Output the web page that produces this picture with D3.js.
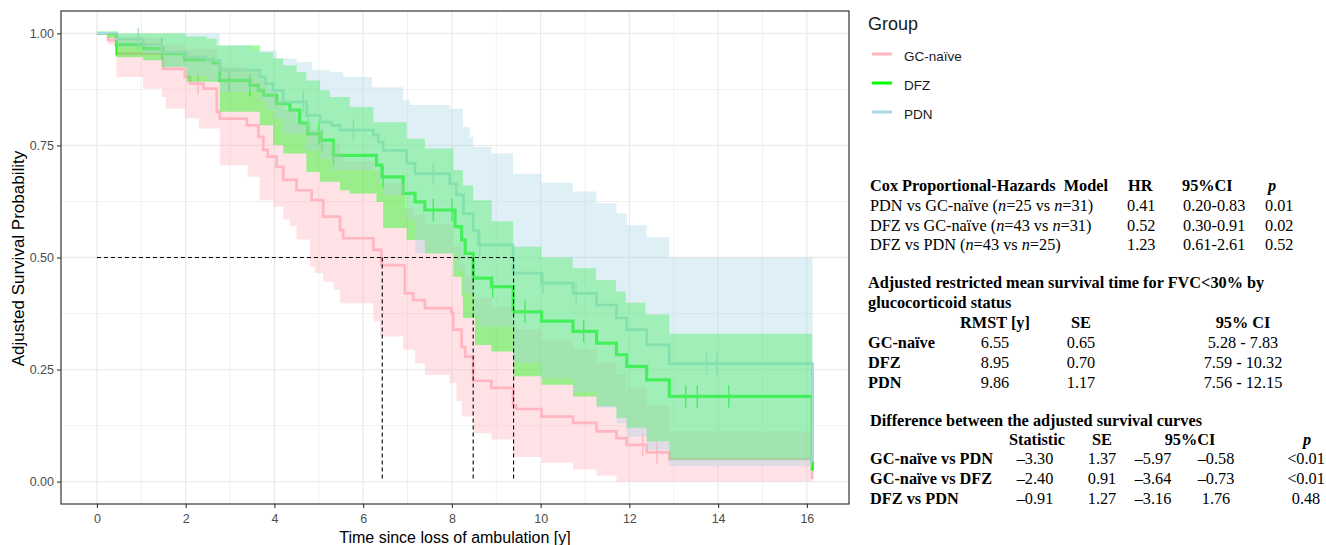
<!DOCTYPE html>
<html>
<head>
<meta charset="utf-8">
<script src="https://cdn.jsdelivr.net/npm/d3@7"></script>
<style>
  body { margin: 0; background: #fff; }
  svg { display: block; }
  text { white-space: pre; }
</style>
</head>
<body>
<svg id="chart" width="1326" height="545"></svg>
<script>
// groups and colours
const groups = ["GC-naïve", "DFZ", "PDN"];
const colors = ["#ffb6c1", "#00ff00", "#add8e6"];

// adjusted survival curves, [time, probability] at each step
const gcSurv = [[0,1],[0.25,0.985],[0.44,0.955],[1.49,0.921],[1.98,0.903],[2.1,0.888],[2.4,0.877],[2.7,0.825],[2.77,0.81],[3.38,0.795],[3.64,0.769],[3.75,0.74],[3.85,0.725],[4.05,0.702],[4.2,0.673],[4.5,0.65],[4.84,0.628],[5.1,0.591],[5.48,0.561],[5.55,0.543],[6.23,0.517],[6.41,0.483],[6.94,0.42],[7.13,0.405],[7.39,0.387],[7.99,0.376],[8.03,0.339],[8.22,0.3],[8.3,0.279],[8.48,0.225],[8.89,0.209],[9.38,0.17],[9.45,0.162],[10.02,0.145],[10.73,0.131],[11.26,0.112],[11.71,0.097],[11.94,0.082],[12.39,0.065],[12.9,0.05],[16.12,0.005]];
const gcLower = [[0,1],[0.25,0.975],[0.44,0.903],[1.04,0.877],[1.46,0.858],[1.55,0.832],[1.98,0.81],[2.3,0.788],[2.77,0.706],[3.4,0.68],[3.67,0.628],[3.98,0.613],[4.2,0.585],[4.35,0.57],[4.5,0.54],[4.8,0.48],[4.91,0.465],[5.1,0.446],[5.33,0.428],[5.48,0.398],[6.23,0.357],[6.38,0.324],[6.9,0.294],[7.17,0.264],[7.39,0.238],[7.95,0.22],[8.1,0.18],[8.22,0.145],[8.48,0.108],[8.89,0.094],[9.38,0.055],[10.02,0.042],[10.73,0.027],[11.26,0.013],[11.71,0],[16.12,0]];
const gcUpper = [[0,1],[0.44,0.99],[1.49,0.975],[1.98,0.965],[2.7,0.94],[2.77,0.925],[3.38,0.915],[3.64,0.895],[3.85,0.87],[4.05,0.855],[4.2,0.83],[4.5,0.8],[4.84,0.785],[5.1,0.755],[5.48,0.73],[5.55,0.715],[6.23,0.695],[6.41,0.665],[6.94,0.61],[7.13,0.595],[7.39,0.575],[7.99,0.565],[8.03,0.525],[8.22,0.485],[8.3,0.46],[8.48,0.41],[8.89,0.39],[9.38,0.35],[9.45,0.34],[10.02,0.315],[10.73,0.295],[11.26,0.265],[11.71,0.24],[11.94,0.21],[12.39,0.17],[12.9,0.112],[16.12,0.112]];

const dfzSurv = [[0,1],[0.44,0.975],[1.06,0.966],[1.49,0.955],[1.98,0.941],[2.62,0.934],[2.77,0.895],[3.45,0.884],[3.64,0.873],[3.75,0.862],[4.05,0.843],[4.35,0.829],[4.57,0.8],[4.75,0.776],[5.03,0.762],[5.33,0.728],[6.3,0.706],[6.42,0.68],[6.9,0.643],[7.17,0.624],[7.39,0.606],[8.07,0.569],[8.22,0.539],[8.3,0.509],[8.48,0.454],[8.89,0.435],[9.38,0.379],[10.02,0.358],[10.73,0.335],[11.26,0.309],[11.71,0.283],[11.94,0.257],[12.39,0.227],[12.9,0.19],[16.12,0.025]];
const dfzLower = [[0,1],[0.25,0.99],[0.44,0.947],[1.04,0.94],[1.46,0.925],[2.02,0.892],[2.77,0.825],[3.67,0.795],[3.97,0.751],[4.2,0.732],[4.72,0.691],[5.03,0.669],[5.48,0.65],[5.7,0.643],[6.3,0.624],[6.45,0.566],[6.98,0.539],[7.39,0.509],[8.03,0.457],[8.22,0.413],[8.25,0.365],[8.52,0.305],[8.89,0.29],[9.38,0.235],[10.02,0.216],[10.73,0.19],[11.26,0.168],[11.71,0.142],[11.94,0.12],[12.39,0.09],[12.9,0.049],[16.12,0.049]];
const dfzUpper = [[0,1],[2.0,0.993],[2.47,0.988],[2.7,0.973],[3.67,0.958],[3.97,0.944],[4.2,0.929],[4.5,0.914],[4.72,0.895],[5.03,0.873],[5.25,0.858],[5.7,0.836],[6.23,0.802],[6.98,0.765],[7.39,0.743],[8.03,0.695],[8.25,0.661],[8.48,0.628],[8.9,0.581],[9.38,0.524],[10.02,0.5],[10.72,0.476],[11.25,0.45],[11.7,0.424],[11.92,0.399],[12.36,0.373],[12.9,0.33],[16.12,0.33]];

const pdnSurv = [[0,1],[0.44,0.988],[1.04,0.975],[1.46,0.958],[2.02,0.947],[2.47,0.94],[2.77,0.918],[3.67,0.903],[3.8,0.888],[3.97,0.873],[4.2,0.847],[4.72,0.817],[5.03,0.802],[5.29,0.795],[5.48,0.784],[6.23,0.773],[6.34,0.758],[6.45,0.739],[6.98,0.71],[7.17,0.687],[7.95,0.665],[8.1,0.64],[8.26,0.598],[8.48,0.56],[8.6,0.528],[9.38,0.465],[10.02,0.443],[10.73,0.42],[11.26,0.394],[11.71,0.365],[11.94,0.339],[12.39,0.305],[12.9,0.263],[16.13,0.045]];
const pdnLower = [[0,1],[0.44,0.97],[1.04,0.955],[1.46,0.925],[2.02,0.905],[2.47,0.895],[2.77,0.869],[3.67,0.85],[3.8,0.83],[3.97,0.81],[4.2,0.775],[4.72,0.739],[5.03,0.72],[5.29,0.695],[6.34,0.665],[6.45,0.64],[6.98,0.585],[7.17,0.51],[8.1,0.47],[8.26,0.42],[8.48,0.37],[8.6,0.346],[9.38,0.265],[10.02,0.23],[10.73,0.2],[11.26,0.165],[11.71,0.13],[11.94,0.1],[12.39,0.07],[12.9,0.034],[16.13,0.034]];
const pdnUpper = [[0,1],[2.77,0.973],[3.5,0.962],[4.05,0.944],[4.5,0.936],[4.85,0.918],[5.25,0.914],[5.55,0.903],[6.2,0.88],[6.9,0.851],[7.05,0.84],[7.95,0.832],[8.25,0.791],[8.4,0.769],[8.48,0.747],[8.89,0.732],[9.38,0.687],[10.02,0.667],[10.73,0.647],[11.26,0.621],[11.71,0.598],[11.94,0.572],[12.39,0.545],[12.9,0.5],[16.13,0.5]];

// censoring times
const gcCensor = [2.28, 12.3, 12.62];
const dfzCensor = [0.44, 1.46, 2.98, 3.45, 5.0, 5.07, 5.33, 6.45, 7.58, 8.0, 8.92, 9.65, 10.97, 13.27, 13.53, 14.24];
const pdnCensor = [0.93, 4.65, 4.75, 5.78, 7.58, 8.63, 10.05, 10.8, 13.74, 13.97];

// median survival times (dashed guides)
const medians = [6.43, 8.48, 9.39];

const xTicks = [0, 2, 4, 6, 8, 10, 12, 14, 16];
const xMinor = [1, 3, 5, 7, 9, 11, 13, 15];
const yTicks = [0, 0.25, 0.5, 0.75, 1];
const yMinor = [0.125, 0.375, 0.625, 0.875];

// tables
const coxHead = ["Cox Proportional-Hazards  Model", "HR", "95%CI", "p"];
const coxRows = [
  ["PDN vs GC-naïve (n=25 vs n=31)", "0.41", "0.20-0.83", "0.01"],
  ["DFZ vs GC-naïve (n=43 vs n=31)", "0.52", "0.30-0.91", "0.02"],
  ["DFZ vs PDN (n=43 vs n=25)", "1.23", "0.61-2.61", "0.52"]
];
const rmstTitle = ["Adjusted restricted mean survival time for FVC<30% by", "glucocorticoid status"];
const rmstHead = ["", "RMST [y]", "SE", "95% CI"];
const rmstRows = [
  ["GC-naïve", "6.55", "0.65", "5.28 - 7.83"],
  ["DFZ", "8.95", "0.70", "7.59 - 10.32"],
  ["PDN", "9.86", "1.17", "7.56 - 12.15"]
];
const diffTitle = "Difference between the adjusted survival curves";
const diffHead = ["Statistic", "SE", "95%CI", "p"];
const diffRows = [
  ["GC-naïve vs PDN", "–3.30", "1.37", "–5.97", "–0.58", "<0.01"],
  ["GC-naïve vs DFZ", "–2.40", "0.91", "–3.64", "–0.73", "<0.01"],
  ["DFZ vs PDN", "–0.91", "1.27", "–3.16", "1.76", "0.48"]
];

const svg = d3.select("#chart");
const sans = "Liberation Sans, Arial, sans-serif";
const serif = "Liberation Serif, Times New Roman, serif";

const panel = { left: 61, right: 849, top: 11, bottom: 504 };
const x = d3.scaleLinear().domain([-0.81, 16.95]).range([panel.left, panel.right]);
const y = d3.scaleLinear().domain([-0.05, 1.05]).range([panel.bottom, panel.top]);

// grid
const grid = svg.append("g");
grid.selectAll(".xm").data(xMinor).join("line")
  .attr("x1", d => x(d)).attr("x2", d => x(d)).attr("y1", panel.top).attr("y2", panel.bottom)
  .attr("stroke", "#ebebeb").attr("stroke-width", 0.7);
grid.selectAll(".ym").data(yMinor).join("line")
  .attr("y1", d => y(d)).attr("y2", d => y(d)).attr("x1", panel.left).attr("x2", panel.right)
  .attr("stroke", "#ebebeb").attr("stroke-width", 0.7);
grid.selectAll(".xM").data(xTicks).join("line")
  .attr("x1", d => x(d)).attr("x2", d => x(d)).attr("y1", panel.top).attr("y2", panel.bottom)
  .attr("stroke", "#ebebeb").attr("stroke-width", 1.3);
grid.selectAll(".yM").data(yTicks).join("line")
  .attr("y1", d => y(d)).attr("y2", d => y(d)).attr("x1", panel.left).attr("x2", panel.right)
  .attr("stroke", "#ebebeb").attr("stroke-width", 1.3);

function stepAt(arr, t) {
  let v = arr[0][1];
  for (const [tt, vv] of arr) {
    if (tt <= t) v = vv; else break;
  }
  return v;
}

function ribbonData(lower, upper) {
  const times = Array.from(new Set(lower.map(d => d[0]).concat(upper.map(d => d[0])))).sort((a, b) => a - b);
  return times.map(t => ({ t: t, lo: stepAt(lower, t), hi: stepAt(upper, t) }));
}

const curves = [
  { surv: gcSurv, lower: gcLower, upper: gcUpper, censor: gcCensor },
  { surv: dfzSurv, lower: dfzLower, upper: dfzUpper, censor: dfzCensor },
  { surv: pdnSurv, lower: pdnLower, upper: pdnUpper, censor: pdnCensor }
];

const line = d3.line().x(d => x(d[0])).y(d => y(d[1])).curve(d3.curveStepAfter);
const area = d3.area().x(d => x(d.t)).y0(d => y(d.lo)).y1(d => y(d.hi)).curve(d3.curveStepAfter);

// survival lines and censor marks
curves.forEach((c, i) => {
  svg.append("path").attr("d", line(c.surv)).attr("fill", "none")
    .attr("stroke", colors[i]).attr("stroke-width", i === 1 ? 3.2 : 2.7);
  svg.append("g").selectAll("line").data(c.censor).join("line")
    .attr("x1", d => x(d)).attr("x2", d => x(d))
    .attr("y1", d => y(stepAt(c.surv, d)) - 11).attr("y2", d => y(stepAt(c.surv, d)) + 11)
    .attr("stroke", colors[i]).attr("stroke-width", 1.4);
});

// confidence ribbons drawn over the lines
curves.forEach((c, i) => {
  svg.append("path").attr("d", area(ribbonData(c.lower, c.upper)))
    .attr("fill", colors[i]).attr("fill-opacity", 0.4);
});

// median guides
const medY = 0.5;
svg.append("line")
  .attr("x1", x(0)).attr("x2", x(d3.max(medians))).attr("y1", y(medY)).attr("y2", y(medY))
  .attr("stroke", "#000").attr("stroke-width", 1.1).attr("stroke-dasharray", "4,3");
svg.append("g").selectAll("line").data(medians).join("line")
  .attr("x1", d => x(d)).attr("x2", d => x(d)).attr("y1", y(medY)).attr("y2", y(0))
  .attr("stroke", "#000").attr("stroke-width", 1.1).attr("stroke-dasharray", "4,3");

// panel border
svg.append("rect").attr("x", panel.left).attr("y", panel.top)
  .attr("width", panel.right - panel.left).attr("height", panel.bottom - panel.top)
  .attr("fill", "none").attr("stroke", "#333").attr("stroke-width", 1.2);

// axes
const xAxis = svg.append("g").attr("transform", `translate(0,${panel.bottom})`)
  .call(d3.axisBottom(x).tickValues(xTicks).tickSize(4).tickPadding(6));
const yAxis = svg.append("g").attr("transform", `translate(${panel.left},0)`)
  .call(d3.axisLeft(y).tickValues(yTicks).tickFormat(d3.format(".2f")).tickSize(4).tickPadding(3));
[xAxis, yAxis].forEach(a => {
  a.select(".domain").remove();
  a.selectAll(".tick line").attr("stroke", "#333").attr("stroke-width", 1.1);
  a.selectAll(".tick text").attr("fill", "#4d4d4d").style("font-family", sans).style("font-size", "12.5px");
});

svg.append("text").attr("x", (x(-0.81) + x(16.95)) / 2).attr("y", 543)
  .attr("text-anchor", "middle").style("font-family", sans).style("font-size", "16px")
  .text("Time since loss of ambulation [y]");
svg.append("text").attr("transform", `translate(24,${(panel.top + panel.bottom) / 2 + 1}) rotate(-90)`)
  .attr("text-anchor", "middle").style("font-family", sans).style("font-size", "17px")
  .text("Adjusted Survival Probability");

// legend
const legend = svg.append("g").attr("transform", "translate(868,0)");
legend.append("text").attr("x", 0).attr("y", 30).attr("fill", "#1a1a1a")
  .style("font-family", sans).style("font-size", "18px").text("Group");
groups.forEach((g, i) => {
  const ly = 54 + i * 29;
  legend.append("line").attr("x1", 4).attr("x2", 24).attr("y1", ly).attr("y2", ly)
    .attr("stroke", colors[i]).attr("stroke-width", 3);
  legend.append("text").attr("x", 36).attr("y", ly + 7).attr("fill", "#1a1a1a")
    .style("font-family", sans).style("font-size", "13.5px").text(g);
});

// tables
const tbl = svg.append("g").style("font-family", serif).style("font-size", "16.3px").attr("fill", "#000");

function addText(tx, ty, str, opts = {}) {
  const t = tbl.append("text").attr("x", tx).attr("y", ty)
    .attr("text-anchor", opts.anchor || "start")
    .attr("font-weight", opts.bold ? "bold" : "normal");
  if (opts.italic) t.attr("font-style", "italic");
  // italic n in "n=.."
  const parts = str.split(/(n)(?==)/);
  parts.forEach(p => {
    const s = t.append("tspan").text(p);
    if (p === "n") s.attr("font-style", "italic");
  });
  return t;
}

// Cox model
const coxX = [870, 1128, 1182, 1268];
const coxValX = [870, 1127, 1183, 1265];
coxHead.forEach((h, j) => addText(coxX[j], 191, h, { bold: true, italic: j === 3 }));
coxRows.forEach((r, i) => r.forEach((v, j) => addText(coxValX[j], 211 + i * 19.7, v)));

// RMST
rmstTitle.forEach((s, i) => addText(868, 288 + i * 20, s, { bold: true }));
const rmstX = [868, 995, 1081, 1243];
rmstHead.forEach((h, j) => { if (h) addText(rmstX[j], 328, h, { bold: true, anchor: "middle" }); });
rmstRows.forEach((r, i) => r.forEach((v, j) => addText(rmstX[j], 348 + i * 20, v,
  { bold: j === 0, anchor: j === 0 ? "start" : "middle" })));

// difference between curves
addText(870, 426, diffTitle, { bold: true });
const diffHeadX = [1037, 1102, 1190, 1307];
diffHead.forEach((h, j) => addText(diffHeadX[j], 445, h, { bold: true, anchor: "middle", italic: j === 3 }));
const diffX = [870, 1035, 1102, 1153, 1216, 1306];
diffRows.forEach((r, i) => r.forEach((v, j) => addText(diffX[j], 464 + i * 20, v,
  { bold: j === 0, anchor: j === 0 ? "start" : "middle" })));
</script>
</body>
</html>
